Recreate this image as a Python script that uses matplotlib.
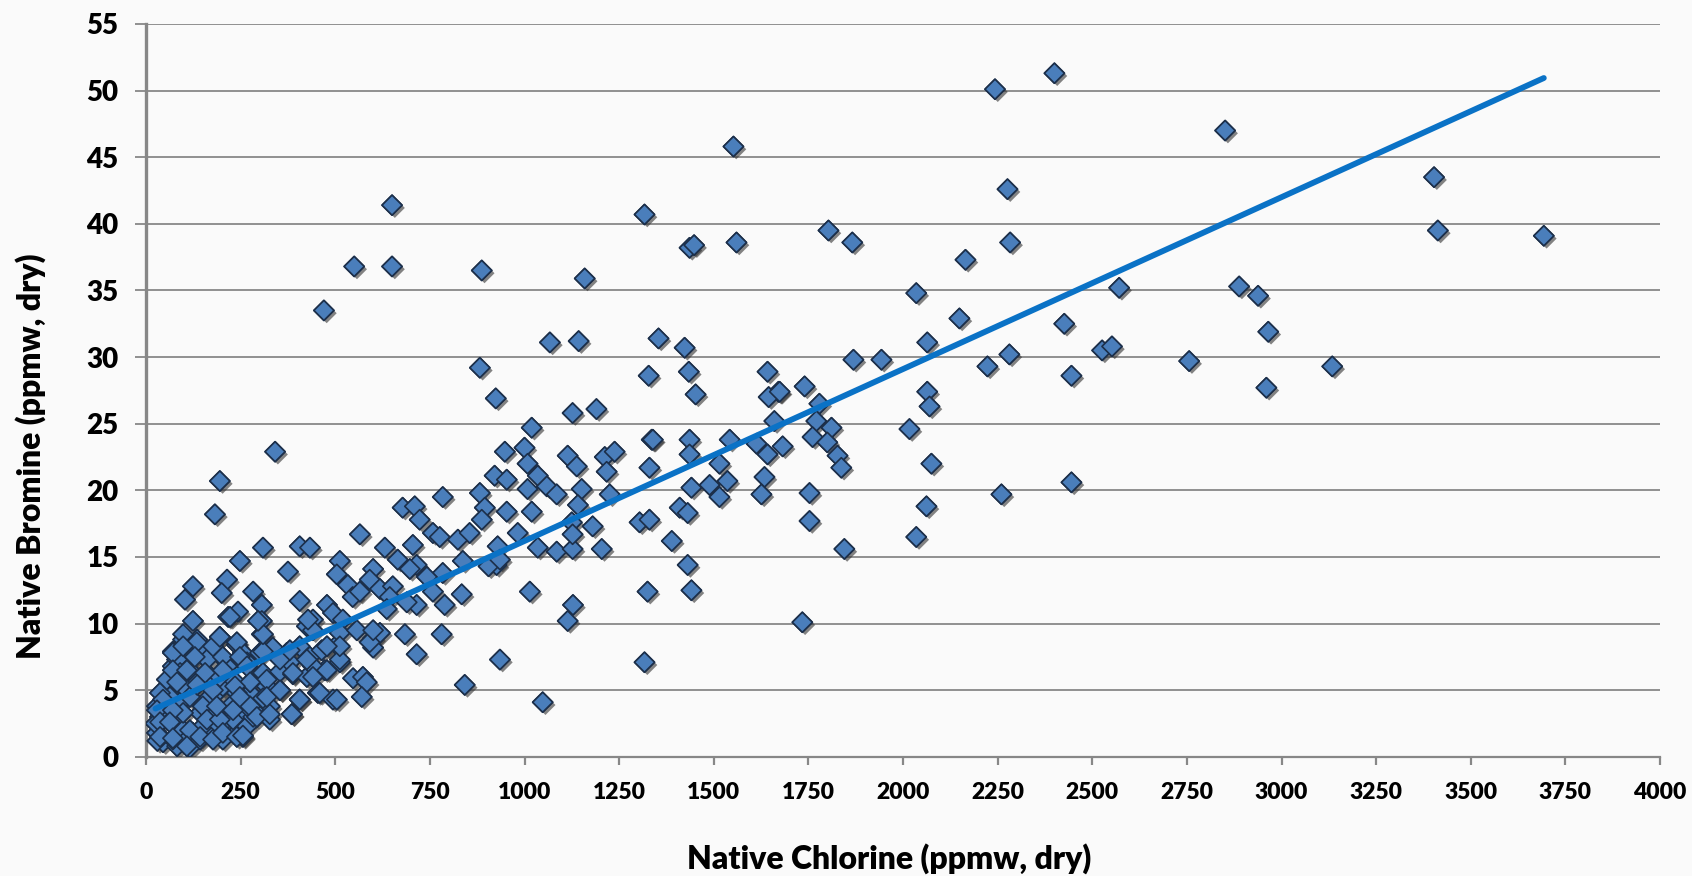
import matplotlib
matplotlib.use("Agg")
import matplotlib.pyplot as plt
import matplotlib.patheffects as pe
import numpy as np

plt.rcParams['font.family'] = ['Lato', 'DejaVu Sans']

# Native chlorine (ppmw, dry) of each sample
chlorine = [
    # high-bromine and high-chlorine samples
    2400, 2243, 2851, 1552, 3403, 2276, 1317, 3413, 3693, 1803, 1866, 2283, 1560,
    1436, 1448, 2165, 887, 1159, 2571, 2035, 2888, 2938, 2149, 2426, 2965, 1067,
    1143, 1354, 1423, 2064, 882, 1328, 1434, 1869, 1943, 2223, 2281, 2445, 2526,
    2552, 1642, 2756, 3134, 2960, 2064, 1740, 1671, 1452, 924, 650, 550, 650, 470,
    # mid range, chlorine below ~1350
    1127, 1190, 341, 1019, 948, 1000, 1008, 1114, 1138, 1212, 1238, 1217, 1336,
    1330, 195, 182, 921, 953, 1035, 1008, 1059, 1085, 1151, 1225, 882, 895, 953,
    1019, 1141, 1180, 1125, 1304, 1330, 887, 784, 678, 710, 723, 565, 758, 776,
    824, 855, 929, 982, 1035, 1085, 1127, 1204, 1127, 631, 705, 406, 433, 309,
    248, 665, 715, 837, 926, 512, 375, 214, 600, 504, 784,
    # mid range, chlorine above ~1350
    2070, 2017, 2075, 2445, 2260, 2062, 2035, 1779, 1771, 1811, 1761, 1800, 1827,
    1837, 1753, 1753, 1845, 1734, 1645, 1674, 1660, 1339, 1436, 1542, 1436, 1515,
    1613, 1642, 1682, 1536, 1441, 1489, 1515, 1634, 1626, 1410, 1431, 1389, 1431,
    1325, 1441, 1317,
    # low bromine, chlorine 880-1410
    1014, 1128, 1114, 935, 1048, 905, 935,
    # low bromine, chlorine below ~900
    124, 103, 200, 283, 306, 406, 124, 217, 243, 306, 306, 98, 135, 195, 177,
    240, 71, 124, 203, 256, 71, 116, 161, 214, 267, 301, 335, 372, 433, 464, 504,
    512, 472, 425, 441, 478, 494, 520, 512, 557, 533, 546, 565, 591, 618, 652,
    697, 742, 758, 715, 644, 636, 689, 789, 834, 600, 618, 600, 684, 715, 781,
    842, 547, 573, 583, 570, 494, 385, 327, 256, 406, 454, 354, 319, 275, 240,
    309, 354, 388, 425, 441, 380, 406,
    # dense cluster near the origin
    29, 37, 29, 45, 71, 98, 82, 116, 124, 143, 90, 63, 161, 169, 177, 203, 214,
    187, 222, 248, 240, 267, 283, 293, 327, 309, 203, 169, 135, 98, 116, 150, 82,
    150, 37, 55, 98, 71, 108, 143, 150, 195, 230, 267, 275, 230, 195, 161, 90, 55,
    25, 30, 40,
    98, 71, 134, 98, 129, 71, 108, 156, 82, 177, 195, 240, 203, 248, 203, 267,
    309, 309, 296, 222, 354, 380, 388, 319, 275, 235, 177, 135, 45, 29, 71, 37,
    63, 37, 71, 116, 108, 143, 177, 161, 195, 203, 240, 256, 187, 230, 275, 248,
    293, 327, 319, 354, 459, 504, 406, 385, 441, 425, 478, 512, 512, 478, 441,
    591, 600, 428,
]

# Native bromine (ppmw, dry) of each sample, same order
bromine = [
    51.3, 50.1, 47.0, 45.8, 43.5, 42.6, 40.7, 39.5, 39.1, 39.5, 38.6, 38.6, 38.6,
    38.2, 38.4, 37.3, 36.5, 35.9, 35.2, 34.8, 35.3, 34.6, 32.9, 32.5, 31.9, 31.1,
    31.2, 31.4, 30.7, 31.1, 29.2, 28.6, 28.9, 29.8, 29.8, 29.3, 30.2, 28.6, 30.5,
    30.8, 28.9, 29.7, 29.3, 27.7, 27.4, 27.8, 27.4, 27.2, 26.9, 41.4, 36.8, 36.8, 33.5,
    25.8, 26.1, 22.9, 24.7, 22.9, 23.2, 22.0, 22.6, 21.8, 22.5, 22.9, 21.4, 23.8,
    21.7, 20.7, 18.2, 21.1, 20.8, 21.1, 20.1, 20.3, 19.7, 20.1, 19.7, 19.8, 18.7, 18.4,
    18.4, 18.9, 17.3, 17.6, 17.6, 17.8, 17.8, 19.5, 18.7, 18.8, 17.8, 16.7, 16.8, 16.5,
    16.3, 16.8, 15.8, 16.8, 15.7, 15.4, 15.6, 15.6, 16.7, 15.7, 15.9, 15.8, 15.7, 15.7,
    14.7, 14.8, 14.4, 14.7, 14.4, 14.7, 13.9, 13.3, 14.1, 13.7, 13.8,
    26.3, 24.6, 22.0, 20.6, 19.7, 18.8, 16.5, 26.5, 25.2, 24.7, 24.0, 23.6, 22.6,
    21.7, 19.8, 17.7, 15.6, 10.1, 27.0, 27.4, 25.2, 23.8, 23.8, 23.8, 22.7, 22.0,
    23.5, 22.7, 23.3, 20.7, 20.2, 20.4, 19.5, 21.0, 19.7, 18.7, 18.3, 16.2, 14.4,
    12.4, 12.5, 7.1,
    12.4, 11.4, 10.2, 7.3, 4.1, 14.3, 14.8,
    12.8, 11.8, 12.3, 12.4, 11.4, 11.7, 10.2, 10.5, 10.9, 10.2, 9.2, 8.8, 8.8, 9.0, 8.2,
    8.4, 7.9, 7.5, 7.4, 7.8, 6.8, 6.5, 6.3, 6.8, 7.1, 7.8, 8.2, 7.8, 7.5, 8.0, 8.4,
    7.1, 6.5, 9.8, 10.3, 11.4, 10.8, 10.3, 9.3, 9.5, 12.9, 12.0, 12.4, 13.3, 12.6, 12.8,
    14.1, 13.5, 12.4, 11.4, 12.0, 11.1, 11.6, 11.4, 12.2, 8.9, 9.3, 8.2, 9.2, 7.7, 9.2,
    5.4, 5.9, 6.0, 5.6, 4.5, 4.3, 3.2, 2.8, 1.5, 4.3, 4.8, 5.0, 5.3, 4.8, 4.8,
    6.3, 6.4, 6.2, 6.0, 6.8, 7.1, 8.3,
    3.8, 3.0, 1.8, 1.1, 2.6, 2.0, 0.8, 0.7, 1.8, 3.3, 4.1, 4.5, 4.3, 3.0, 1.8, 1.3, 2.6,
    4.8, 3.8, 3.3, 1.8, 2.3, 3.0, 3.8, 3.8, 4.4, 5.3, 5.8, 5.6, 5.3, 4.5, 3.8, 7.3,
    8.0, 4.8, 3.8, 3.3, 1.3, 1.3, 1.3, 2.3, 2.3, 2.8, 3.8, 5.6, 5.8, 6.0, 7.3, 6.3, 5.8,
    2.5, 1.2, 3.5,
    9.2, 7.8, 8.6, 8.3, 7.5, 6.5, 6.5, 6.3, 5.6, 8.3, 9.0, 8.6, 7.5, 7.5, 6.5, 6.8,
    7.9, 9.2, 10.2, 10.5, 7.3, 8.0, 6.3, 5.8, 5.6, 5.3, 5.0, 5.4, 4.3, 3.5, 3.5, 2.6,
    2.6, 1.5, 1.4, 2.0, 0.8, 1.5, 1.3, 2.8, 2.8, 1.8, 1.5, 1.6, 3.8, 3.5, 3.8, 4.5,
    3.0, 3.2, 4.5, 5.0, 4.8, 4.3, 4.3, 3.2, 6.0, 7.3, 6.5, 7.3, 8.3, 8.3, 9.5,
    8.6, 9.5, 10.3,
]

# Linear trend line: bromine = slope * chlorine + intercept
trend_slope = 0.0129
trend_intercept = 3.3

x_ticks = list(range(0, 4001, 250))
y_ticks = list(range(0, 56, 5))

x_label = "Native Chlorine (ppmw, dry)"
y_label = "Native Bromine (ppmw, dry)"

grid_gray = "#878787"

fig = plt.figure(figsize=(16.92, 8.76), dpi=100)
fig.patch.set_facecolor("#fafafa")
ax = fig.add_axes([0.0863, 0.136, 0.8948, 0.8367])
ax.set_facecolor("#fafafa")

ax.scatter(chlorine, bromine, marker="D", s=104, facecolor="#4a7ebb",
           edgecolor="#1c2f4a", linewidth=1.2, zorder=3,
           path_effects=[pe.withSimplePatchShadow(offset=(2.0, -2.0),
                                                  shadow_rgbFace="#333333",
                                                  alpha=0.6),
                         pe.Normal()])

xs = np.array([min(chlorine), max(chlorine)], dtype=float)
ax.plot(xs, trend_slope * xs + trend_intercept, color="#0a72c6",
        linewidth=4.2, solid_capstyle="round", zorder=4)

ax.set_xlim(0, 4000)
ax.set_ylim(0, 55)
ax.set_xticks(x_ticks)
ax.set_yticks(y_ticks)
ax.set_xticklabels([str(t) for t in x_ticks], fontsize=16.5, fontweight="heavy")
ax.set_yticklabels([str(t) for t in y_ticks], fontsize=20, fontweight="heavy")

ax.yaxis.grid(True, color=grid_gray, linewidth=1.3, zorder=0)
ax.set_axisbelow(True)

for side in ("top", "right"):
    ax.spines[side].set_visible(False)
ax.spines["left"].set_color(grid_gray)
ax.spines["left"].set_linewidth(2.4)
ax.spines["bottom"].set_color(grid_gray)
ax.spines["bottom"].set_linewidth(1.6)

ax.tick_params(axis="x", direction="out", length=6, width=1.6, color=grid_gray,
               pad=12)
ax.tick_params(axis="y", direction="out", length=8, width=1.3, color=grid_gray,
               pad=12)

ax.set_xlabel(x_label, fontsize=23, fontweight="heavy")
ax.set_ylabel(y_label, fontsize=23, fontweight="heavy")
ax.xaxis.set_label_coords(0.491, -0.118)
ax.yaxis.set_label_coords(-0.066, 0.41)

fig.savefig("out.png", dpi=100, facecolor=fig.get_facecolor())
